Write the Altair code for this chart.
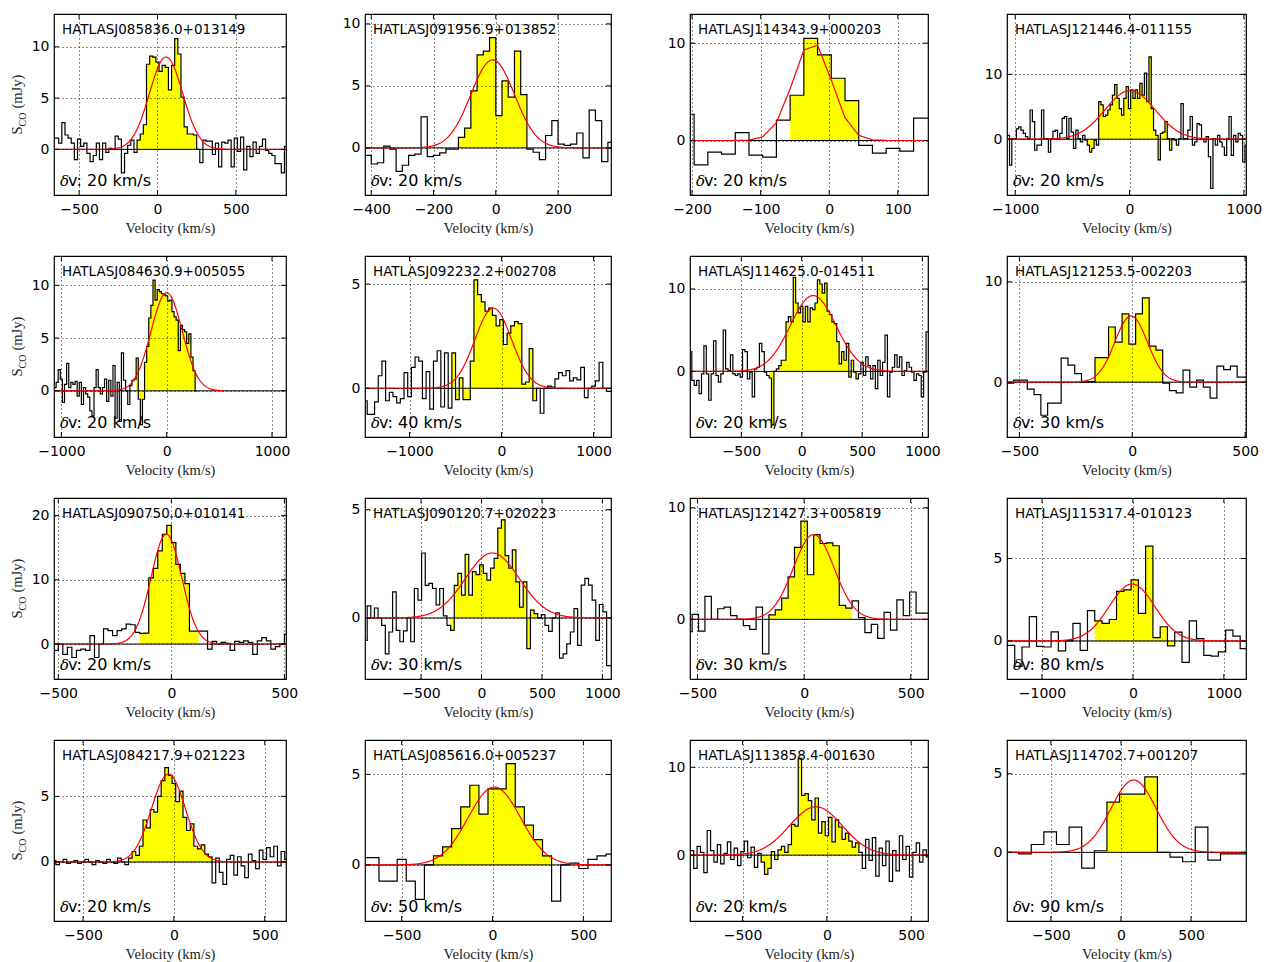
import altair as alt
import numpy as np
import pandas as pd

NAMES = ["HATLASJ085836.0+013149", "HATLASJ091956.9+013852", "HATLASJ114343.9+000203", "HATLASJ121446.4-011155",
         "HATLASJ084630.9+005055", "HATLASJ092232.2+002708", "HATLASJ114625.0-014511", "HATLASJ121253.5-002203",
         "HATLASJ090750.0+010141", "HATLASJ090120.7+020223", "HATLASJ121427.3+005819", "HATLASJ115317.4-010123",
         "HATLASJ084217.9+021223", "HATLASJ085616.0+005237", "HATLASJ113858.4-001630", "HATLASJ114702.7+001207"]
DV = [20, 20, 20, 20, 20, 40, 20, 30, 20, 30, 30, 80, 20, 50, 20, 90]
C0 = [-660, -410, -207, -1060, -1060, -1480, -920, -540, -510, -960, -540, -1420, -660, -700, -800, -865]

V01 = [1.1, 1.1, 0.6, 2.6, 1.4, 1.1, 0.6, -1.0, 1.0, 0.3, 0.6, -0.4, -1.2, -0.6, 0.6, -1.0, 0.6, -0.3, 0.1, 0.0,
       1.3, 1.0, -2.3, -0.4, 0.4, 0.9, -0.3,
       0.9, 1.5, 2.4, 8.3, 9.1, 9.0, 8.5, 7.6, 8.2, 8.0, 5.8, 8.2, 10.8, 9.3, 5.1, 2.2, 1.5, 1.5, 1.4,
       0.0, -1.3, 0.9, 0.8, 0.8, -0.5, 0.6, -1.7, 0.7, 0.6, 0.9, -1.7, 1.1, -0.2, 1.2, -2.0, 0.3, -0.7, 0.7, -0.4,
       0.3, 1.0, -0.1, -0.4, -0.6, -1.4, -1.4, -2.3, 0.3]
V02 = [-0.6, -1.3, -1.2, 0.15, -0.1, -1.9, -1.4, -0.6, -0.5, 2.5, -0.7, -0.6, -0.4, -0.1, -0.1, 0.85, 1.6, 4.6,
       7.5, 7.8, 8.9, 2.6, 5.4, 4.1, 7.8, 4.3, -0.1, -0.35, -0.95, 1.0, 2.2, 0.3, 0.2, 0.3, 1.2, -0.8, 3.05, 2.2,
       -1.1, 0.45]
V03 = [2.7, -2.5, -1.2, -1.4, 0.8, -1.5, -1.7, 2.1, 4.65, 10.5, 8.8, 6.4, 4.1, -0.5, -1.3, -0.8, -1.1, 2.3, 2.3]
V04 = [0.6, -4.0, 0.1, 0.1, 1.6, 1.9, 1.4, 0.9, 0.4, 0.1, 4.5, 2.7, -1.7, -0.9, -0.9, 4.5, 0.1, 0.1, -2.0, 0.1,
       1.2, 1.4, 0.1, 0.9, 3.2, 3.5, 0.1, 3.2, 1.1, -1.4, 1.4, 0.1, -0.4, 0.6, -0.15, -0.9, -2.0, -1.4, -0.15, -0.9,
       5.8, 5.3, 3.5, 3.7, 4.5, 5.3, 6.8, 8.4, 6.3, 4.7, 3.7, 6.3, 8.1, 4.7, 7.6, 6.3, 7.6, 6.3, 8.6, 6.8, 10.2,
       5.8, 12.7, 4.7, 1.4, 0.6, -3.2, 0.9, 1.1, 2.7, 0.1, -1.7, 0.1, -0.15, -0.9, 0.1, 5.5, 0.1, 0.1, 1.4, 3.5,
       -0.9, -0.4, 2.4, 2.2, 0.1, -0.4, 0.4, -2.7, -7.6, 0.1, -0.9, 0.6, -0.4, -1.2, -2.5, 0.1, 3.5, -2.5, 0.6,
       -0.4, 0.9, 0.6, -3.5, -0.9]
V05 = [0.3, 0.8, 2.0, 1.1, -1.1, 0.6, 2.6, 0.3, 0.8, 0.6, 0.9, -0.5, 0.8, -1.3, 0.3, -0.3, -0.6, -1.9, -2.4, 0.3,
       2.0, 0.3, -0.3, 0.3, 1.1, -1.0, 1.0, -0.5, 2.4, -2.6, 0.8, -2.9, 3.6, 1.0, 0.0, -1.3, 0.5, 1.0, 1.1,
       3.1, -0.8, -3.2, -0.8, 2.7, 4.2, 6.9, 8.1, 10.5, 8.6, 9.6, 9.4, 9.2, 9.1, 9.0, 8.5, 8.6, 7.5, 7.0, 6.7,
       3.8, 6.2, 5.8, 5.6, 4.5, 5.4, 3.2, 1.9, 0.0]
V06 = [-0.6, -1.25, -1.25, -0.65, 0.6, 1.3, -0.6, -0.2, -0.4, -0.7, -0.5, 0.75, -0.4, 1.0, 1.5, 1.3, -0.5, 0.8,
       -1.0, 1.3, 1.8, -0.9, 1.7, -0.95, 1.7,
       -0.55, 0.5, -0.55, -0.55, 1.3, 5.2, 4.5, 4.15, 3.7, 3.85, 3.5, 3.0, 3.3, 2.1, 2.65, 3.0, 3.2, 3.1, 0.2, 0.3,
       1.9, -0.6,
       0.0, -1.2, 0.0, 0.1, 0.05, 0.45, 0.75, 0.6, 0.85, 0.35, 0.5, 0.4, 1.0, -0.45, 0.0, 0.1, 0.35, 1.25, 0.0,
       -0.15, -0.15]
V07 = [2.4, -1.1, -1.7, -1.1, -2.7, -0.3, 3.1, -0.3, -3.5, -0.3, 3.7, -0.5, -1.3, -0.3, 5.0, 0.3, 0.1, 2.0, -0.3,
       -0.5, -0.3, -0.7, 2.65, 2.4, -0.9, -0.1, -3.1, 0.3, 0.5, 3.4, 2.4, -0.1, -0.5, -0.8, -6.5, 0.0, 0.3, 0.7,
       1.35, 1.35, 6.0, 6.65, 6.0, 11.4, 8.3, 7.1, 7.9, 6.0, 7.9, 6.0, 7.7, 7.5, 8.3, 11.1, 10.6, 9.5, 10.7, 7.3,
       6.9, 6.0, 5.8, 3.6, 0.9, 2.4, 1.35, 3.4, -0.7, 1.35, -0.1, -0.9, -0.3, 1.1, -0.5, 1.75, 0.7, -0.9, 0.7,
       -2.1, 1.35, -0.5, 1.1, 4.4, -3.1, -0.1, 0.5, 2.0, 0.5, 1.75, -0.5, 0.1, 1.1, 0.5, -0.1, -1.1, -0.3, -0.5,
       -3.1, -0.1, 4.8]
V08 = [-0.1, 0.2, 0.2, -0.7, -1.25, -3.3, -2.1, -2.1, 2.4, 1.7, 0.85, 0.0, 0.05, 2.45, 2.45, 5.5, 4.0, 6.8, 3.8,
       6.8, 8.4, 3.6, 3.2, -0.1, -0.85, -1.07, 1.2, -0.5, 0.2, -0.5, -1.6, 1.6, 1.25, 1.6, 0.5, 0.5]
V09 = [-1.0, 0.0, -1.6, -0.5, -2.1, -1.0, -0.8, -1.0, 1.3, -2.1, 0.0, 2.35, 2.1, 1.3, 2.1, 2.35, 3.1, 3.0, 1.8,
       1.65, 1.7, 10.3, 11.8, 14.5, 17.1, 18.5, 15.8, 12.4, 11.0, 9.4, 2.0, 2.0,
       2.0, 2.0, -0.8, 0.4, 0.0, 0.25, 0.1, -1.0, 0.4, 0.25, 0.5, 0.25, -1.6, 0.5, 1.0, 0.5, -0.8, -0.4, 0.0, 1.5]
V10 = [-1.04, 0.56, 0.0, 0.46, 0.0, -0.34, -1.66, -0.65, 1.2, -0.57, -1.1, -0.6, 0.0, -1.1, 1.36, 0.82, 3.0, 1.5,
       1.6, 1.36, 0.6, 1.36, 0.1,
       -0.34, -0.57, 1.5, 2.06, 1.05, 2.94, 1.05, 2.14, 2.0, 2.45, 2.06, 1.75, 2.3, 2.75, 4.15, 4.53, 2.88, 2.3,
       3.14, 1.67, 0.5, 1.67, -1.42, 0.36, 0.2,
       0.0, 0.15, -0.34, -0.62, 0.0, 0.23, -1.86, -1.66, -1.2, -0.65, 0.43, -1.27, 1.52, 1.83, 1.52, 0.82, -1.04,
       0.62, 0.28, -2.2, -2.2]
V11 = [-1.1, 0.45, -1.05, 2.05, 0.0, 0.95, 1.1, 0.33, 0.0, -0.57, -0.9, 1.1, -3.1,
       0.4, 0.85, 1.9, 3.8, 6.45, 8.8, 4.0, 7.6, 6.8, 6.85, 6.6, 1.25, 1.0,
       1.65, 0.15, -1.2, -0.45, -1.7, 0.63, -0.97, 1.75, 0.33, 2.45, 0.55, 0.55, 0.55]
V12 = [-0.27, -0.27, -1.55, -0.37, 1.47, -0.33, -0.37, 0.55, -0.6, 0.0, 1.06, -0.57, 1.84,
       1.22, 1.06, 1.3, 3.0, 3.1, 3.7, 1.67, 5.75, 0.2, 0.86, -0.3,
       0.53, -1.3, 1.22, 0.14, -0.88, -0.92, -0.67, 0.65, 0.29, -0.47, -0.47]
V13 = [0.1, -0.2, 0.0, 0.2, -0.1, 0.0, 0.1, -0.1, 0.0, 0.2, 0.0, -0.2, 0.1, 0.0, -0.1, 0.2, 0.0, -0.1, 0.3, 0.0,
       -0.2,
       0.3, 0.8, 0.5, 1.2, 3.2, 2.6, 4.0, 3.8, 5.0, 6.2, 7.2, 6.6, 6.0, 4.6, 5.4, 3.4, 2.4, 2.9, 1.2, 1.0, 1.3,
       0.6, 0.4,
       -1.6, 0.3, -0.8, -1.7, 0.2, 0.5, -1.0, 0.4, -0.3, -1.2, 0.6, 0.1, -0.5, 0.9, 0.2, 1.1, 0.4, 1.2, -0.3, 0.8,
       0.2]
V14 = [0.4, 0.4, -0.9, -0.9, 0.3, -0.9, -1.9, 0.0, 0.5, 1.0, 2.0, 3.2, 4.4, 2.8, 4.2, 4.2, 5.6, 3.2, 2.2, 1.4,
       0.5, -2.0, 0.0, 0.1, -0.2, 0.3, 0.5, 0.6]
V15 = [0.5, -1.5, 1.0, 0.3, -2.0, 2.8, 0.5, -0.8, 1.2, -1.0, 0.2, 1.5, -0.5, 0.8, -1.2, 0.4, 1.6, -0.3, 0.9, -1.4,
       0.2,
       -0.8, -2.2, -1.5, 0.4, -0.5, 0.6, 1.0, 0.3, 1.2, 3.5, 3.3, 11.0, 6.8, 7.0, 6.2, 4.0, 6.5, 2.5, 3.8, 2.2,
       4.3, 1.5, 4.0, 3.2, 1.8, 2.5, 1.6, 0.9, 1.4,
       0.3, -1.5, 1.8, -0.6, 2.0, -2.4, 0.8, -1.2, 1.6, -3.0, 0.5, -1.8, 2.2, -0.5, 1.0, -2.5, 0.3, 1.4, -0.8, 0.6,
       -0.2]
V16 = [0.0, 0.0, -0.1, 0.5, 1.3, 0.5, 1.6, -1.0, 0.1, 3.2, 3.7, 3.7, 4.8, 0.0, -0.3, -0.6, 1.6, -0.5, -0.1, -0.1,
       -0.1]
SPECTRA = [V01, V02, V03, V04, V05, V06, V07, V08, V09, V10, V11, V12, V13, V14, V15, V16]

YEL_LO = [-120, -110, -47, -380, -280, -520, -260, -150, -130, -240, -150, -380, -240, -300, -380, -55]
YEL_HI = [240, 90, 33, 360, 260, 360, 460, 120, 110, 450, 210, 420, 200, 300, 180, 215]

G_AMP = [9.0, 7.1, 10.2, 7.5, 9.3, 3.85, 9.2, 6.6, 17.1, 3.0, 7.6, 3.45, 6.7, 4.3, 5.5, 4.6]
G_CEN = [55, -10, -25, 5, 0, -90, 95, -5, -22, 90, 45, -10, -30, 10, -65, 90]
G_FWHM = [250, 165, 66, 515, 350, 470, 445, 170, 160, 525, 225, 590, 220, 340, 370, 380]

X_DOM = [[-660, 820], [-420, 370], [-203, 144], [-1072, 1019],
         [-1070, 1133], [-1484, 1189], [-925, 1046], [-555, 504],
         [-519, 507], [-963, 1071], [-535, 581], [-1385, 1244],
         [-660, 617], [-702, 652], [-812, 600], [-813, 892]]
Y_DOM = [[-4.45, 13.2], [-3.8, 10.8], [-5.6, 13.0], [-8.6, 19.3],
         [-4.38, 12.78], [-2.34, 6.35], [-7.96, 14.0], [-5.47, 12.58],
         [-5.45, 22.75], [-2.82, 5.54], [-5.35, 10.88], [-2.31, 8.67],
         [-4.5, 9.3], [-3.1, 6.9], [-7.5, 13.1], [-4.37, 7.15]]
X_TICKS = [[-500, 0, 500], [-400, -200, 0, 200], [-200, -100, 0, 100], [-1000, 0, 1000],
           [-1000, 0, 1000], [-1000, 0, 1000], [-500, 0, 500, 1000], [-500, 0, 500],
           [-500, 0, 500], [-500, 0, 500, 1000], [-500, 0, 500], [-1000, 0, 1000],
           [-500, 0, 500], [-500, 0, 500], [-500, 0, 500], [-500, 0, 500]]
Y_TICKS = [[0, 5, 10], [0, 5, 10], [0, 10], [0, 10],
           [0, 5, 10], [0, 5], [0, 10], [0, 10],
           [0, 10, 20], [0, 5], [0, 10], [0, 5],
           [0, 5], [0, 5], [0, 10], [0, 5]]
RED_LIMIT = {4: [-1070, 540]}
RED_COARSE = {2}

W = [232, 246, 238, 239]
H = 181
TICK = 5
SERIF = "Liberation Serif"
SANS = "DejaVu Sans"


def make_panel(i):
    col = i % 4
    w = W[col]
    vals = SPECTRA[i]
    dv = DV[i]
    c0 = C0[i]
    n = len(vals)
    centers = [c0 + k * dv for k in range(n)]
    xs = [c - dv / 2 for c in centers] + [centers[-1] + dv / 2]
    ys = list(vals) + [vals[-1]]
    spec_df = pd.DataFrame({"v": xs, "s": ys})

    idx = [k for k, c in enumerate(centers) if YEL_LO[i] - 1e-6 <= c <= YEL_HI[i] + 1e-6]
    k0, k1 = idx[0], idx[-1]
    yx = [centers[k] - dv / 2 for k in range(k0, k1 + 1)] + [centers[k1] + dv / 2]
    yy = [vals[k] for k in range(k0, k1 + 1)] + [vals[k1]]
    yel_df = pd.DataFrame({"v": yx, "s": yy, "z": [0.0] * len(yx)})

    sig = G_FWHM[i] / 2.3548
    if i in RED_COARSE:
        gx = np.array(xs + [xs[-1] + dv])
    else:
        lo, hi = RED_LIMIT.get(i, X_DOM[i])
        gx = np.linspace(lo, hi, 400)
    gy = G_AMP[i] * np.exp(-0.5 * ((gx - G_CEN[i]) / sig) ** 2)
    red_df = pd.DataFrame({"v": gx, "s": gy})

    xsc = alt.Scale(domain=X_DOM[i], nice=False, zero=False)
    ysc = alt.Scale(domain=Y_DOM[i], nice=False, zero=False)
    xax = alt.Axis(values=X_TICKS[i], title="Velocity (km/s)", grid=True, ticks=False, domain=False,
                   labelFlush=False, labelOverlap=False, format="d", labelPadding=7,
                   titlePadding=5, zindex=1)
    yax = alt.Axis(values=Y_TICKS[i], title=None, grid=True, ticks=False, domain=False,
                   labelFlush=False, labelOverlap=False, format="d", labelPadding=5, zindex=1)
    X = alt.X("v:Q", scale=xsc, axis=xax)
    Y = alt.Y("s:Q", scale=ysc, axis=yax)

    area = alt.Chart(yel_df).mark_area(interpolate="step-after", color="#ffff00", opacity=1, clip=True).encode(
        x=X, y=Y, y2="z:Q")
    line = alt.Chart(spec_df).mark_line(interpolate="step-after", color="black", strokeWidth=1.2,
                                        clip=True).encode(x=X, y=Y)
    zero = alt.Chart(pd.DataFrame({"s": [0.0]})).mark_rule(color="black", strokeWidth=1).encode(y=Y)
    red = alt.Chart(red_df).mark_line(color="red", strokeWidth=1.2, clip=True).encode(x=X, y=Y)

    xt = alt.Chart(pd.DataFrame({"v": X_TICKS[i]}))
    xt_top = xt.mark_rule(color="black", strokeWidth=1).encode(x=X, y=alt.value(0), y2=alt.value(TICK))
    xt_bot = xt.mark_rule(color="black", strokeWidth=1).encode(x=X, y=alt.value(H - TICK), y2=alt.value(H))
    yt = alt.Chart(pd.DataFrame({"s": Y_TICKS[i]}))
    yt_l = yt.mark_rule(color="black", strokeWidth=1).encode(y=Y, x=alt.value(0), x2=alt.value(TICK))
    yt_r = yt.mark_rule(color="black", strokeWidth=1).encode(y=Y, x=alt.value(w - TICK), x2=alt.value(w))

    name = alt.Chart(pd.DataFrame({"t": [NAMES[i]]})).mark_text(
        align="left", baseline="alphabetic", font=SANS, fontSize=13.5, color="black").encode(
        text="t:N", x=alt.value(8), y=alt.value(20))
    delta = alt.Chart(pd.DataFrame({"t": ["δ"]})).mark_text(
        align="left", baseline="alphabetic", font="DejaVu Serif", fontStyle="italic", fontSize=15,
        color="black").encode(text="t:N", x=alt.value(6), y=alt.value(H - 9))
    dvt = alt.Chart(pd.DataFrame({"t": ["v: %d km/s" % dv]})).mark_text(
        align="left", baseline="alphabetic", font=SANS, fontSize=16, color="black").encode(
        text="t:N", x=alt.value(14), y=alt.value(H - 9))
    layers = [area, line, zero, red, xt_top, xt_bot, yt_l, yt_r, name, delta, dvt]
    if col == 0:
        mid = H / 2
        s1 = alt.Chart(pd.DataFrame({"t": ["S"]})).mark_text(
            align="left", baseline="alphabetic", font=SERIF, fontSize=14.5, angle=270, color="#222").encode(
            text="t:N", x=alt.value(-32), y=alt.value(mid + 30))
        s2 = alt.Chart(pd.DataFrame({"t": ["CO"]})).mark_text(
            align="left", baseline="alphabetic", font=SERIF, fontSize=10, angle=270, color="#222").encode(
            text="t:N", x=alt.value(-28.5), y=alt.value(mid + 22))
        s3 = alt.Chart(pd.DataFrame({"t": ["(mJy)"]})).mark_text(
            align="left", baseline="alphabetic", font=SERIF, fontSize=14.5, angle=270, color="#222").encode(
            text="t:N", x=alt.value(-32), y=alt.value(mid + 4))
        layers += [s1, s2, s3]
    return alt.layer(*layers).properties(width=w, height=H)


panels = [make_panel(i) for i in range(16)]

chart = alt.concat(*panels, columns=4, spacing={"row": 61, "column": 79}, bounds="flush", align="each").properties(
    padding={"left": 1, "top": 4, "right": 2, "bottom": 2}
).configure_view(stroke="black", strokeWidth=1.2).configure_axis(
    labelFont=SANS, labelFontSize=14, labelColor="black",
    titleFont=SERIF, titleFontSize=14.5, titleFontWeight="normal", titleColor="#222",
    gridColor="black", gridDash=[1, 3], gridOpacity=0.9, gridWidth=1
)

chart.save("out.html", embed_options={"renderer": "svg", "actions": False})
